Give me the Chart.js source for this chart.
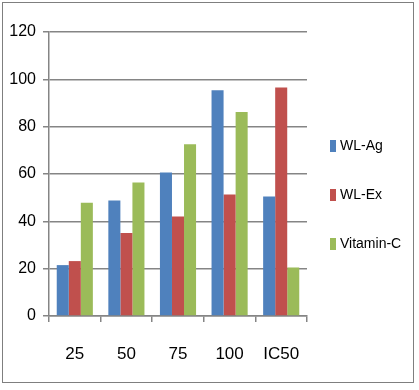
<!DOCTYPE html>
<html>
<head>
<meta charset="utf-8">
<script src="https://cdn.jsdelivr.net/npm/chart.js@4"></script>
<style>
  html, body { margin: 0; padding: 0; background: #fff; }
  #wrap { position: absolute; left: 2px; top: 2px; width: 412px; height: 381px; border: 1px solid #7f7f7f; box-sizing: border-box; }
  #c { position: absolute; left: 0; top: 0; }
  #legend { position: absolute; left: 327px; top: 134px; font-family: 'Liberation Sans', Arial, sans-serif; font-size: 14px; color: #000; }
  #legend div { height: 49px; line-height: 16px; white-space: nowrap; }
  #legend span { display: inline-block; width: 6px; height: 12px; margin-right: 4px; vertical-align: -2px; }
</style>
</head>
<body>
<div id="wrap"><canvas id="c" width="410" height="379"></canvas><div id="legend"></div></div>
<script>
var categories = ['25', '50', '75', '100', 'IC50']
var wlAg = [21.5, 48.8, 60.6, 95.4, 50.5]
var wlEx = [23.2, 35.1, 42, 51.3, 96.5]
var vitaminC = [47.9, 56.4, 72.6, 86.2, 20.5]
var yTicks = [0, 20, 40, 60, 80, 100, 120]

var font = "'Liberation Sans', Arial, sans-serif"

var chart = new Chart(document.getElementById('c'), {
  type: 'bar',
  data: {
    labels: categories,
    datasets: [
      { label: 'WL-Ag', data: wlAg, backgroundColor: '#4f81bd' },
      { label: 'WL-Ex', data: wlEx, backgroundColor: '#c0504d' },
      { label: 'Vitamin-C', data: vitaminC, backgroundColor: '#9bbb59' }
    ]
  },
  options: {
    responsive: false,
    animation: false,
    categoryPercentage: 0.7,
    barPercentage: 1,
    layout: { padding: { left: 0, top: 29, right: 106, bottom: 0 } },
    plugins: {
      tooltip: { enabled: false },
      legend: { display: false }
    },
    scales: {
      x: {
        afterFit: function(axis){ axis.height = 66 },
        grid: { display: true, drawOnChartArea: false, offset: true, color: '#858585', lineWidth: 1.5, tickLength: 6 },
        border: { color: '#858585', width: 1.5 },
        ticks: { font: { family: font, size: 17 }, color: '#000', padding: 22 }
      },
      y: {
        min: 0,
        max: 120,
        afterFit: function(axis){ axis.width = 46 },
        afterBuildTicks: function(axis){ axis.ticks = yTicks.map(function(v){ return { value: v } }) },
        grid: { color: '#858585', lineWidth: 1.5, tickLength: 6 },
        border: { color: '#858585', width: 1.5 },
        ticks: { font: { family: font, size: 16 }, color: '#000', padding: 7 }
      }
    }
  }
})

// legend built from the chart's datasets
var legend = document.getElementById('legend')
chart.data.datasets.forEach(function(ds){
  var row = document.createElement('div')
  var box = document.createElement('span')
  box.style.background = ds.backgroundColor
  row.appendChild(box)
  row.appendChild(document.createTextNode(ds.label))
  legend.appendChild(row)
})
</script>
</body>
</html>
